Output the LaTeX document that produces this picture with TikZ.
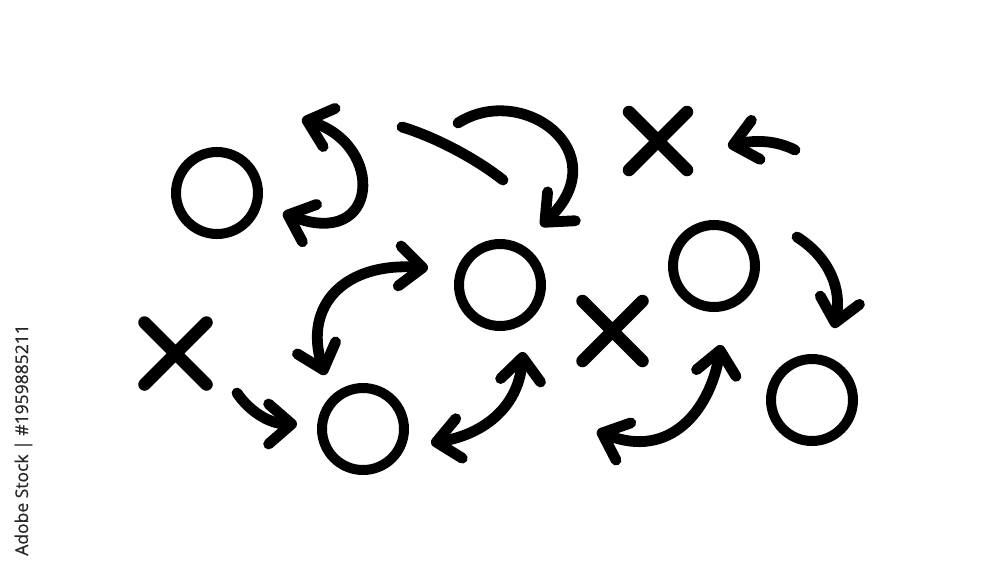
\documentclass[tikz,border=0pt]{standalone}
\usepackage{fontspec}
\newfontfamily\wmfont[FakeBold=0.6]{Open Sans}
\usetikzlibrary{arrows.meta}
\tikzset{
  ring/.style={circle, draw=black, line width=10pt, minimum size=82pt, inner sep=0pt},
  xbar/.style={draw=black, line width=12.5pt, line cap=round},
  play/.style={draw=black, line width=10.8pt, line cap=round, line join=round},
  >={Straight Barb[length=23pt,width=40pt,round]}
}
\begin{document}
\begin{tikzpicture}[x=1pt,y=-1pt]
\useasboundingbox (0,0) rectangle (1000,563);
% circles
\node[ring] (c1) at (217,193) {};
\node[ring] (c2) at (500,285) {};
\node[ring] (c3) at (363,429) {};
\node[ring] (c4) at (714,266) {};
\node[ring] (c5) at (812,400) {};
% crosses
\coordinate (x1) at (658,141);
\coordinate (x2) at (175.5,353.5);
\coordinate (x3) at (612.5,331);
\draw[xbar] (x1) ++(-29,-29) -- ++(58,58) (x1) ++(29,-29) -- ++(-58,58);
\draw[xbar] (x2) ++(-31,-31) -- ++(62,62) (x2) ++(31,-31) -- ++(-62,62);
\draw[xbar] (x3) ++(-30,-30) -- ++(60,60) (x3) ++(30,-30) -- ++(-60,60);
% arrow end points
\coordinate (a1s) at (302,119);  \coordinate (a1e) at (283,213);
\coordinate (a2s) at (402,127);  \coordinate (a2e) at (503,180);
\coordinate (a3s) at (458,123);  \coordinate (a3e) at (541,226);
\coordinate (a4s) at (795,150);  \coordinate (a4e) at (728,146);
\coordinate (a5s) at (428,268);  \coordinate (a5e) at (325,375);
\coordinate (a6s) at (523,352);  \coordinate (a6e) at (431,443);
\coordinate (a7s) at (237,393);  \coordinate (a7e) at (297,424);
\coordinate (a8s) at (721,345);  \coordinate (a8e) at (597,431);
\coordinate (a9s) at (797,237);  \coordinate (a9e) at (834,328);
% arrows
\draw[play,<->] (a1s) .. controls (385,145) and (380,250) .. (a1e);
\draw[play] (a2s) .. controls (435,137) and (475,158) .. (a2e);
\draw[play,->] (a3s) .. controls (522,82) and (618,152) .. (a3e);
\draw[play,->] (a4s) .. controls (775,140) and (755,140) .. (a4e);
\draw[play,<->] (a5s) .. controls (345,262) and (303,305) .. (a5e);
\draw[play,<->] (a6s) .. controls (518,410) and (480,435) .. (a6e);
\draw[play,->] (a7s) .. controls (250,412) and (270,424) .. (a7e);
\draw[play,<->] (a8s) .. controls (710,410) and (670,460) .. (a8e);
\draw[play,->] (a9s) .. controls (830,258) and (842,290) .. (a9e);
% side text
\node[rotate=90, anchor=base, inner sep=0pt, text=black!85] (wm) at (28,440)
  {\wmfont\fontsize{17.5}{17.5}\selectfont Adobe Stock | \#1959885211};
\end{tikzpicture}
\end{document}
